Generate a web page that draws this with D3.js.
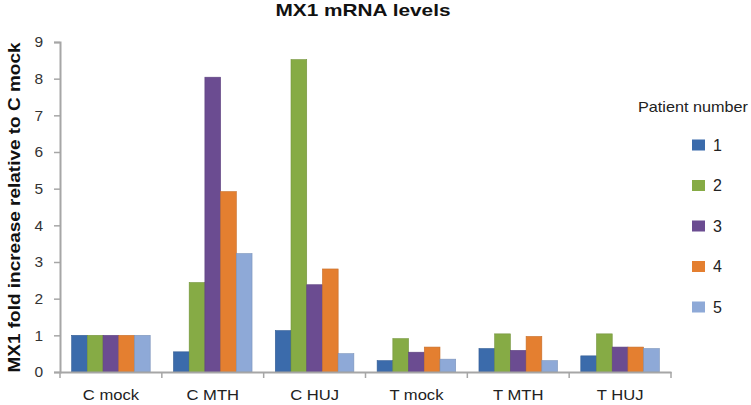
<!DOCTYPE html>
<html><head><meta charset="utf-8">
<script src="https://cdn.jsdelivr.net/npm/d3@7"></script>
<style>body{margin:0;background:#fff}svg{display:block}</style>
</head><body>
<svg id="c" width="751" height="405"></svg>
<script>
const categories = ["C mock","C MTH","C HUJ","T mock","T MTH","T HUJ"];
const patients = ["1","2","3","4","5"];
const patient1 = [1.0, 0.55, 1.13, 0.31, 0.64, 0.44];
const patient2 = [1.0, 2.44, 8.52, 0.91, 1.04, 1.04];
const patient3 = [1.0, 8.04, 2.38, 0.54, 0.59, 0.68];
const patient4 = [1.0, 4.92, 2.81, 0.68, 0.97, 0.68];
const patient5 = [1.0, 3.23, 0.50, 0.35, 0.31, 0.64];
const yTicks = [0,1,2,3,4,5,6,7,8,9];
const colors = ["#3b6bab","#86ab45","#6b4c91","#e47f30","#8ea9d7"];
const series = [patient1,patient2,patient3,patient4,patient5];
const FONT = "Liberation Sans, Arial, sans-serif";

const svg = d3.select("#c");
const mLeft = 60, mRight = 671, mTop = 42, mBottom = 372;
const x = d3.scaleBand().domain(categories).range([mLeft, mRight]).paddingInner(0).paddingOuter(0);
const x1 = d3.scaleBand().domain(patients).range([0, x.bandwidth()]).paddingInner(0).paddingOuter(0.74);
const y = d3.scaleLinear().domain([0,9]).range([mBottom, mTop]);

// title
svg.append("text").attr("x",363).attr("y",15.5).attr("text-anchor","middle")
  .attr("font-family",FONT).attr("font-weight","bold").attr("font-size",17)
  .attr("textLength",175).attr("lengthAdjust","spacingAndGlyphs")
  .attr("fill","#111").text("MX1 mRNA levels");

// bars
const g = svg.append("g");
categories.forEach((c,i)=>{
  series.forEach((s,j)=>{
    const v = s[i];
    g.append("rect").attr("x", x(c)+x1(patients[j])).attr("y", y(v))
      .attr("width", x1.bandwidth()).attr("height", y(0)-y(v))
      .attr("fill", colors[j]).attr("stroke", d3.color(colors[j]).darker(0.4)).attr("stroke-width",0.6);
  });
});

// y axis
const ya = svg.append("g").attr("transform",`translate(${mLeft},0)`)
  .call(d3.axisLeft(y).tickValues(yTicks).tickSize(6).tickPadding(11).tickFormat(d3.format("d")));
ya.select(".domain").attr("stroke","#a6a6a6").attr("stroke-width",2);
ya.selectAll(".tick line").attr("stroke","#a6a6a6").attr("stroke-width",1.5);
ya.selectAll(".tick text").attr("font-family",FONT).attr("font-size",15.5).attr("fill","#333");

// x axis
const xa = svg.append("g").attr("transform",`translate(0,${mBottom})`)
  .call(d3.axisBottom(x).tickSize(0).tickPadding(17));
xa.select(".domain").attr("stroke","#a6a6a6").attr("stroke-width",2);
xa.selectAll(".tick text").attr("font-family",FONT).attr("font-size",15.5).attr("fill","#222")
  .attr("textLength",function(){ return this.getComputedTextLength()*1.07; })
  .attr("lengthAdjust","spacingAndGlyphs");
const boundaries = d3.range(categories.length+1).map(i=> mLeft + i*x.step());
xa.selectAll(".bt").data(boundaries).enter().append("line")
  .attr("x1",d=>d).attr("x2",d=>d).attr("y1",0).attr("y2",6).attr("stroke","#a6a6a6").attr("stroke-width",1.5);

// y label
svg.append("text").attr("transform",`translate(20,${(mTop+mBottom)/2+0.5}) rotate(-90)`)
  .attr("text-anchor","middle").attr("font-family",FONT)
  .attr("font-weight","bold").attr("font-size",17).attr("fill","#111")
  .attr("textLength",330).attr("lengthAdjust","spacingAndGlyphs")
  .text("MX1 fold increase relative to C mock");

// legend
svg.append("text").attr("x",638).attr("y",111.5).attr("font-family",FONT)
  .attr("font-size",14.5).attr("fill","#222")
  .attr("textLength",110).attr("lengthAdjust","spacingAndGlyphs").text("Patient number");
const lg = svg.append("g");
patients.forEach((p,j)=>{
  const cy = 145 + j*40.5;
  lg.append("rect").attr("x",692).attr("y",cy-5.5).attr("width",13).attr("height",11).attr("fill",colors[j]);
  lg.append("text").attr("x",713).attr("y",cy+5.5).attr("font-family",FONT)
    .attr("font-size",16).attr("fill","#222").text(p);
});
</script>
</body></html>
